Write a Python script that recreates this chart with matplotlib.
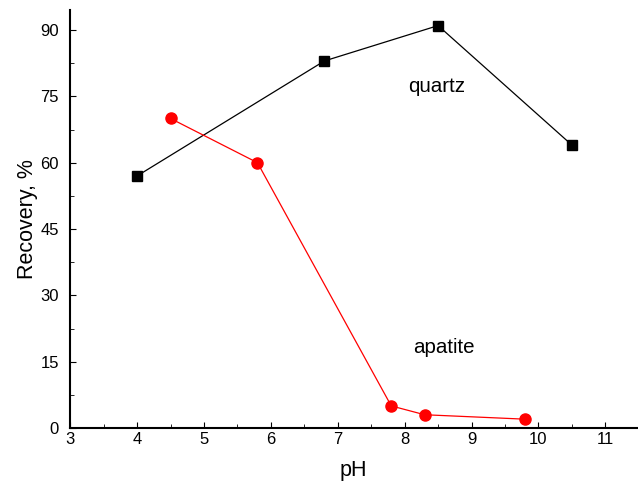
import matplotlib
matplotlib.use('Agg')
from matplotlib import pyplot as plt
from matplotlib.ticker import MultipleLocator

plt.rcParams['font.family'] = ['Liberation Sans', 'DejaVu Sans']

#   Flotation recovery data
quartz_ph = [4, 6.8, 8.5, 10.5]
quartz_rec = [57, 83, 91, 64]
apatite_ph = [4.5, 5.8, 7.8, 8.3, 9.8]
apatite_rec = [70, 60, 5, 3, 2]

fig = plt.figure(figsize=(6.38, 4.82), dpi=100)
ax = fig.add_axes([0.11, 0.112, 0.888, 0.867])

ax.plot(quartz_ph, quartz_rec, color='black', lw=0.9, marker='s', ms=7, clip_on=False)
ax.plot(apatite_ph, apatite_rec, color='red', lw=0.9, marker='o', ms=8, clip_on=False)

ax.text(8.48, 77.2, 'quartz', fontsize=14.8, ha='center', va='center')
ax.text(8.58, 18.1, 'apatite', fontsize=14.8, ha='center', va='center')

ax.set_xlim(3, 11.47)
ax.set_ylim(0, 94.5)
ax.xaxis.set_major_locator(MultipleLocator(1))
ax.xaxis.set_minor_locator(MultipleLocator(0.5))
ax.yaxis.set_major_locator(MultipleLocator(15))
ax.yaxis.set_minor_locator(MultipleLocator(7.5))
ax.tick_params(which='both', direction='in', labelsize=12)
ax.tick_params(which='major', length=4)
ax.tick_params(which='minor', length=3)
ax.tick_params(axis='y', pad=8)
ax.tick_params(axis='x', pad=3)

for s in ['top', 'right']:
    ax.spines[s].set_visible(False)
for s in ['left', 'bottom']:
    ax.spines[s].set_linewidth(1.5)

ax.set_xlabel('pH', fontsize=15.5, labelpad=9)
ax.set_ylabel('Recovery, %', fontsize=15.5, labelpad=2)

fig.savefig('out.png')
